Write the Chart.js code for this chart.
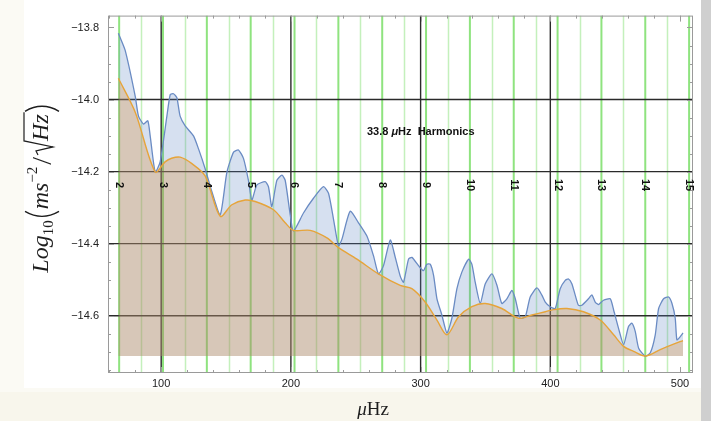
<!DOCTYPE html>
<html>
<head>
<meta charset="utf-8">
<script src="https://cdn.jsdelivr.net/npm/chart.js@4"></script>
<style>
  html, body { margin: 0; padding: 0; background: #fbfaf4; }
  #wrap { width: 711px; height: 421px; }
</style>
</head>
<body>
<div id="wrap"><canvas id="psdChart" width="711" height="421"></canvas></div>
<script>
// Spectrum (blue) - frequency in µHz, log10 amplitude
const blueFreq = [67, 72.2, 80, 82.5, 86.4, 89.7, 91.5, 95.4, 99.2, 104.4, 107, 109.5, 112.1, 114.6, 118.5,
  124.9, 128.8, 133.9, 139.1, 145.5, 150.7, 155.8, 159.6, 163.5, 167.3, 169.9, 173.8, 180.2, 182.7, 185.3,
  189.2, 193.1, 195.6, 199.5, 202, 209.7, 217.4, 225.1, 229, 232.9, 236.7, 239.3, 245.7, 252.1, 258.6,
  263.7, 267.5, 271.4, 276.6, 280.4, 284.3, 286.8, 290.7, 293.3, 298.4, 302.2, 304.8, 307.4, 310, 312.6,
  316.4, 320.3, 324.1, 328, 331.8, 337, 339.5, 342.1, 346, 349.8, 355, 358.9, 362.6, 366.5, 370.4,
  373, 376.8, 380.7, 384.5, 389.7, 393.5, 396.1, 399.9, 403.8, 407.6, 411.5, 414, 416.6, 419.2, 421.7,
  424.3, 429.4, 432, 434.6, 437.1, 441, 446.2, 448.8, 452.6, 456.5, 460.3, 462.9, 465.5, 468.1, 473.2,
  477.1, 480.9, 483.5, 487.3, 491.2, 493.8, 496.3, 497.6, 500.2, 502.3];
const blueVal = [-13.816, -13.863, -13.991, -14.046, -14.068, -14.059, -14.100, -14.201, -14.173, -14.046, -13.986, -13.984, -13.995, -14.046, -14.073,
  -14.101, -14.137, -14.192, -14.256, -14.320, -14.201, -14.146, -14.140, -14.164, -14.225, -14.279, -14.237, -14.228, -14.242, -14.297,
  -14.224, -14.210, -14.224, -14.320, -14.365, -14.315, -14.274, -14.242, -14.260, -14.333, -14.406, -14.388, -14.310, -14.342, -14.379,
  -14.434, -14.484, -14.461, -14.390, -14.437, -14.490, -14.507, -14.443, -14.438, -14.461, -14.475, -14.457, -14.457, -14.488, -14.553,
  -14.598, -14.648, -14.607, -14.525, -14.479, -14.443, -14.457, -14.507, -14.566, -14.512, -14.484, -14.516, -14.566, -14.553, -14.530,
  -14.553, -14.607, -14.603, -14.548, -14.523, -14.543, -14.562, -14.575, -14.580, -14.525, -14.502, -14.498, -14.511, -14.543, -14.571,
  -14.571, -14.553, -14.542, -14.562, -14.569, -14.557, -14.553, -14.584, -14.635, -14.680, -14.630, -14.621, -14.644, -14.690, -14.712,
  -14.703, -14.653, -14.580, -14.553, -14.548, -14.566, -14.607, -14.667, -14.658, -14.648];

// Lower envelope (orange)
const orangeFreq = [67, 80, 95.4, 103, 108, 114.6, 123.7, 133.9, 145.5, 154.5, 164.8, 172.5, 186.6, 195.6, 202,
  214.9, 227.8, 236.7, 250.9, 267.5, 284.3, 293.3, 303.5, 312.6, 320.3, 329.3, 339.5, 349.8, 362.6, 375.5,
  385.8, 396.1, 402.5, 412.8, 425.6, 438.5, 448.8, 456.5, 464.2, 473.2, 484.7, 495, 502.3];
const orangeVal = [-13.941, -14.035, -14.201, -14.173, -14.163, -14.160, -14.178, -14.212, -14.324, -14.292, -14.279, -14.283, -14.306, -14.342, -14.363,
  -14.363, -14.384, -14.411, -14.443, -14.484, -14.516, -14.525, -14.562, -14.612, -14.653, -14.603, -14.575, -14.566, -14.580, -14.607,
  -14.598, -14.589, -14.583, -14.580, -14.589, -14.612, -14.653, -14.685, -14.699, -14.712, -14.694, -14.679, -14.669];

const fillBase = -14.712;
const harmonicStep = 33.8;
const harmonicNums = [2, 3, 4, 5, 6, 7, 8, 9, 10, 11, 12, 13, 14, 15];
const xTicks = [100, 200, 300, 400, 500];
const yTicks = [-14.6, -14.4, -14.2, -14.0, -13.8];
const xGrid = [100, 200, 300, 400];
const yGrid = [-14.6, -14.4, -14.2, -14.0];

const toPts = (xs, ys) => xs.map((x, i) => ({ x: x, y: ys[i] }));

// background of the scanned slide
const bgPlugin = {
    id: 'bg',
    beforeDraw(chart) {
        const ctx = chart.ctx;
        ctx.save();
        ctx.fillStyle = '#fbfaf4';
        ctx.fillRect(0, 0, 711, 421);
        ctx.fillStyle = '#ffffff';
        ctx.fillRect(24, 0, 677, 388);
        ctx.fillStyle = '#f8f6ec';
        ctx.fillRect(0, 392, 701, 29);
        ctx.fillStyle = '#cfcfcf';
        ctx.fillRect(701, 0, 10, 421);
        ctx.restore();
    }
};

// green harmonic lines + black grid, under the data
const underlay = {
    id: 'underlay',
    beforeDatasetsDraw(chart) {
        const { ctx, chartArea: a, scales: { x, y } } = chart;
        ctx.save();
        ctx.beginPath();
        ctx.rect(a.left, a.top, a.right - a.left, a.bottom - a.top);
        ctx.clip();
        harmonicNums.forEach(n => {
            // half-way lines
            const fh = (n + 0.5) * harmonicStep;
            if (fh < x.max) {
                const px = Math.round(x.getPixelForValue(fh)) + 0.5;
                ctx.strokeStyle = '#c4f0bc';
                ctx.lineWidth = 1.5;
                ctx.beginPath(); ctx.moveTo(px, a.top); ctx.lineTo(px, a.bottom); ctx.stroke();
            }
            const px = x.getPixelForValue(n * harmonicStep);
            ctx.strokeStyle = '#8fe37f';
            ctx.lineWidth = 2;
            ctx.beginPath(); ctx.moveTo(px, a.top); ctx.lineTo(px, a.bottom); ctx.stroke();
        });
        ctx.strokeStyle = '#2a2a2a';
        ctx.lineWidth = 1.4;
        xGrid.forEach(v => {
            const px = x.getPixelForValue(v);
            ctx.beginPath(); ctx.moveTo(px, a.top); ctx.lineTo(px, a.bottom); ctx.stroke();
        });
        yGrid.forEach(v => {
            const py = y.getPixelForValue(v);
            ctx.beginPath(); ctx.moveTo(a.left, py); ctx.lineTo(a.right, py); ctx.stroke();
        });
        ctx.restore();
    }
};

function drawYLabel(ctx) {
    const serif = '"Liberation Serif", "DejaVu Serif", serif';
    const parts = [
        { t: 'Log', f: 'italic 24px ' + serif, dy: 0 },
        { t: '10', f: '15px ' + serif, dy: 5, after: 2 },
        { paren: 'l', w: 9 },
        { t: 'ms', f: 'italic 24px ' + serif, dy: 0 },
        { t: '\u22122', f: '15px ' + serif, dy: -11, after: 2 },
        { t: '/', f: '28px ' + serif, dy: 3, after: 2 },
        { sqrt: true, w: 14 },
        { t: 'Hz', f: 'italic 24px ' + serif, dy: 0, over: true, after: 2 },
        { paren: 'r', w: 9 }
    ];
    ctx.save();
    let total = 0;
    parts.forEach(p => {
        if (p.sqrt || p.paren) { total += p.w; return; }
        ctx.font = p.f;
        p.w = ctx.measureText(p.t).width + (p.after || 0);
        total += p.w;
    });
    ctx.translate(48, 188);
    ctx.rotate(-Math.PI / 2);
    ctx.fillStyle = '#1e1e1e';
    ctx.strokeStyle = '#1e1e1e';
    ctx.textBaseline = 'alphabetic';
    ctx.textAlign = 'left';
    let cx = -total / 2;
    let sqrtX = 0;
    parts.forEach(p => {
        if (p.sqrt) { sqrtX = cx; cx += p.w; return; }
        if (p.paren) {
            ctx.lineWidth = 1.4;
            ctx.beginPath();
            if (p.paren === 'l') {
                ctx.moveTo(cx + 7, -23);
                ctx.quadraticCurveTo(cx - 3, -6, cx + 7, 11);
            } else {
                ctx.moveTo(cx + 1, -23);
                ctx.quadraticCurveTo(cx + 11, -6, cx + 1, 11);
            }
            ctx.stroke();
            cx += p.w;
            return;
        }
        ctx.font = p.f;
        ctx.fillText(p.t, cx, p.dy);
        if (p.over) {
            ctx.lineWidth = 1.2;
            ctx.beginPath();
            ctx.moveTo(sqrtX, -10);
            ctx.lineTo(sqrtX + 4, -12);
            ctx.lineTo(sqrtX + 8, 5);
            ctx.lineTo(sqrtX + 14, -24);
            ctx.lineTo(cx + p.w, -24);
            ctx.stroke();
        }
        cx += p.w;
    });
    ctx.restore();
}

// frame, ticks, harmonic numbers, annotations and axis titles
const overlay = {
    id: 'overlay',
    afterDraw(chart) {
        const { ctx, chartArea: a, scales: { x, y } } = chart;
        ctx.save();
        ctx.strokeStyle = '#9a9a9a';
        ctx.lineWidth = 1;
        ctx.strokeRect(a.left + 0.5, a.top + 0.5, a.right - a.left - 1, a.bottom - a.top - 1);
        // x ticks
        for (let v = 60; v <= 510; v += 20) {
            const px = Math.round(x.getPixelForValue(v)) + 0.5;
            const len = v % 100 === 0 ? 6 : 3;
            ctx.beginPath();
            ctx.moveTo(px, a.bottom); ctx.lineTo(px, a.bottom - len);
            ctx.moveTo(px, a.top); ctx.lineTo(px, a.top + len);
            ctx.stroke();
        }
        // y ticks
        for (let k = -295; k <= -276; k++) {
            const v = k * 0.05;
            const py = Math.round(y.getPixelForValue(v)) + 0.5;
            const len = k % 4 === 0 ? 6 : 3;
            ctx.beginPath();
            ctx.moveTo(a.left, py); ctx.lineTo(a.left + len, py);
            ctx.moveTo(a.right, py); ctx.lineTo(a.right - len, py);
            ctx.stroke();
        }
        // harmonic numbers
        ctx.fillStyle = '#111';
        ctx.font = 'bold 11px "Liberation Sans", Arial, sans-serif';
        ctx.textAlign = 'center';
        ctx.textBaseline = 'middle';
        harmonicNums.forEach(n => {
            const px = x.getPixelForValue(n * harmonicStep);
            ctx.save();
            ctx.translate(px, 185);
            ctx.rotate(Math.PI / 2);
            ctx.fillText(String(n), 0, 0);
            ctx.restore();
        });
        // annotation
        ctx.textAlign = 'left';
        ctx.font = 'bold 11px "Liberation Sans", Arial, sans-serif';
        let tx = 367;
        ctx.fillText('33.8 ', tx, 132);
        tx += ctx.measureText('33.8 ').width;
        ctx.font = 'bold italic 11px "Liberation Sans", Arial, sans-serif';
        ctx.fillText('\u03bc', tx, 132);
        tx += ctx.measureText('\u03bc').width;
        ctx.font = 'bold 11px "Liberation Sans", Arial, sans-serif';
        ctx.fillText('Hz  Harmonics', tx, 132);
        // x title
        const serif = '"Liberation Serif", "DejaVu Serif", serif';
        ctx.font = 'italic 19px ' + serif;
        ctx.fillStyle = '#1e1e1e';
        ctx.textBaseline = 'alphabetic';
        const muW = ctx.measureText('\u03bc').width;
        ctx.font = '19px ' + serif;
        const hzW = ctx.measureText('Hz').width;
        let sx = 373 - (muW + hzW) / 2;
        ctx.font = 'italic 19px ' + serif;
        ctx.fillText('\u03bc', sx, 415);
        ctx.font = '19px ' + serif;
        ctx.fillText('Hz', sx + muW, 415);
        drawYLabel(ctx);
        ctx.restore();
    }
};

new Chart(document.getElementById('psdChart'), {
    type: 'line',
    data: {
        datasets: [
            {
                label: 'envelope',
                data: toPts(orangeFreq, orangeVal),
                borderColor: '#e6a43a',
                borderWidth: 1.4,
                backgroundColor: 'rgba(217,144,57,0.3)',
                fill: { value: fillBase },
                pointRadius: 0,
                tension: 0.3,
                order: 1
            },
            {
                label: 'spectrum',
                data: toPts(blueFreq, blueVal),
                borderColor: '#6a8bc3',
                borderWidth: 1.3,
                backgroundColor: 'rgba(91,131,195,0.25)',
                fill: { value: fillBase },
                pointRadius: 0,
                tension: 0.2,
                order: 2
            }
        ]
    },
    options: {
        responsive: false,
        animation: false,
        layout: { padding: { top: 10, right: 18, left: 0, bottom: 0 } },
        plugins: { legend: { display: false }, tooltip: { enabled: false } },
        scales: {
            x: {
                type: 'linear',
                min: 59,
                max: 510,
                afterBuildTicks: s => { s.ticks = xTicks.map(v => ({ value: v })); },
                afterFit: s => { s.height = 48; },
                grid: { display: false, drawTicks: false },
                border: { display: false },
                ticks: {
                    color: '#222',
                    padding: 4,
                    maxRotation: 0,
                    font: { family: '"Liberation Sans", Arial, sans-serif', size: 11 }
                }
            },
            y: {
                type: 'linear',
                min: -14.759,
                max: -13.767,
                afterBuildTicks: s => { s.ticks = yTicks.map(v => ({ value: v })); },
                afterFit: s => { s.width = 108; },
                grid: { display: false, drawTicks: false },
                border: { display: false },
                ticks: {
                    color: '#222',
                    padding: 9,
                    font: { family: '"Liberation Sans", Arial, sans-serif', size: 11 },
                    callback: v => '\u2212' + Math.abs(v).toFixed(1)
                }
            }
        }
    },
    plugins: [bgPlugin, underlay, overlay]
});
</script>
</body>
</html>
